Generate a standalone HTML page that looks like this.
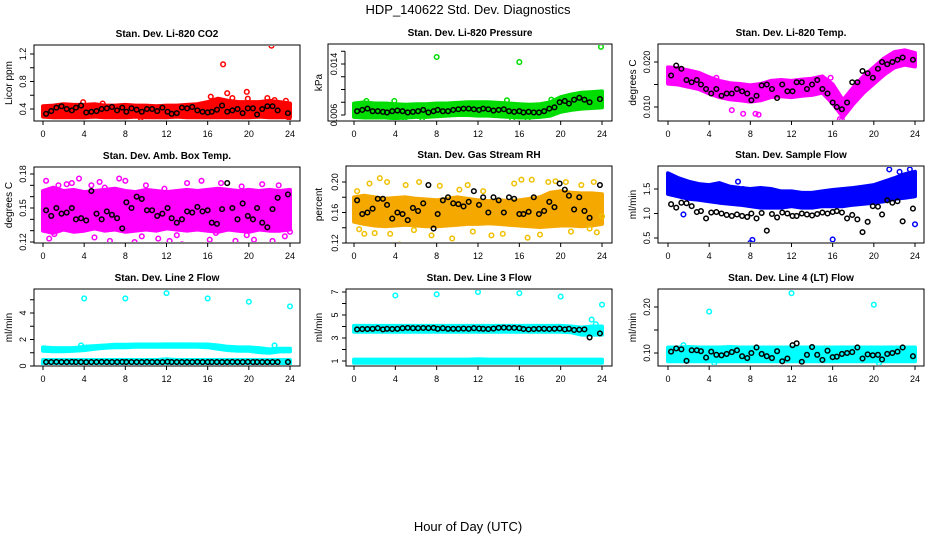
<!DOCTYPE html>
<html><head><meta charset="utf-8">
<style>
html,body{margin:0;padding:0;background:#fff;}
svg{display:block;font-family:"Liberation Sans",sans-serif;}
</style></head>
<body>
<svg id="chart" width="936" height="540" viewBox="0 0 936 540" xmlns="http://www.w3.org/2000/svg">
<text x="468" y="14" text-anchor="middle" font-size="13">HDP_140622  Std. Dev. Diagnostics</text>
<text x="468" y="531" text-anchor="middle" font-size="13">Hour of Day (UTC)</text>
</svg>
<script>
// ---- data (hourly bands 0..24, black sample points, outliers) ----
const bandHours=[0,1,2,3,4,5,6,7,8,9,10,11,12,13,14,15,16,17,18,19,20,21,22,23,24];
const blackHours=[0.3,0.8,1.3,1.8,2.3,2.8,3.2,3.7,4.2,4.7,5.2,5.7,6.2,6.7,7.2,7.7,8.1,8.6,9.1,9.6,10.1,10.6,11.1,11.6,12.1,12.5,13.0,13.5,14.0,14.5,15.0,15.5,16.0,16.4,16.9,17.4,17.9,18.4,18.9,19.4,19.9,20.4,20.8,21.3,21.8,22.3,22.8,23.8];

const co2Upper=[0.44,0.45,0.47,0.46,0.46,0.47,0.45,0.45,0.46,0.45,0.45,0.44,0.45,0.45,0.46,0.47,0.50,0.55,0.52,0.50,0.50,0.50,0.52,0.50,0.48];
const co2Lower=[0.29,0.28,0.28,0.28,0.28,0.29,0.28,0.28,0.28,0.29,0.28,0.28,0.28,0.29,0.28,0.28,0.28,0.28,0.28,0.28,0.28,0.29,0.28,0.28,0.28];
const co2Black=[0.33,0.37,0.42,0.44,0.40,0.38,0.42,0.45,0.35,0.36,0.37,0.40,0.41,0.43,0.38,0.42,0.36,0.41,0.39,0.36,0.40,0.40,0.37,0.42,0.36,0.33,0.34,0.42,0.41,0.43,0.38,0.36,0.35,0.36,0.39,0.45,0.36,0.38,0.40,0.34,0.41,0.41,0.32,0.40,0.44,0.44,0.38,0.34];
const co2OutX=[17.5,22.2,17.9,19.8,18.4,19.9,21.8,22.5,23.6,23.9,16.3,9.5,3.9,5.8];
const co2OutY=[1.05,1.32,0.63,0.65,0.56,0.55,0.56,0.53,0.52,0.22,0.58,0.27,0.50,0.48];

const presUpper=[0.0078,0.0080,0.0078,0.0078,0.0077,0.0076,0.0077,0.0077,0.0078,0.0078,0.0079,0.0080,0.0080,0.0080,0.0079,0.0078,0.0077,0.0076,0.0077,0.0080,0.0088,0.0092,0.0095,0.0096,0.0097];
const presLower=[0.0057,0.0056,0.0056,0.0056,0.0055,0.0056,0.0057,0.0057,0.0058,0.0059,0.0060,0.0060,0.0059,0.0059,0.0058,0.0057,0.0056,0.0056,0.0057,0.0059,0.0065,0.0068,0.0070,0.0071,0.0072];
const presBlack=[0.0066,0.0068,0.0070,0.0066,0.0066,0.0065,0.0064,0.0066,0.0067,0.0066,0.0064,0.0065,0.0066,0.0068,0.0064,0.0066,0.0068,0.0066,0.0066,0.0068,0.0069,0.0070,0.0070,0.0069,0.0068,0.0070,0.0069,0.0067,0.0068,0.0069,0.0066,0.0065,0.0066,0.0064,0.0065,0.0064,0.0064,0.0066,0.0070,0.0072,0.0080,0.0082,0.0078,0.0084,0.0087,0.0084,0.0080,0.0085];
const presOutX=[8.0,16.0,23.9,16.8,4.9,6.6,1.2,3.9,14.8,15.3,19.1];
const presOutY=[0.0151,0.0143,0.0167,0.0054,0.0055,0.0055,0.0082,0.0082,0.0083,0.0054,0.0084];

const tempUpper=[0.0188,0.0186,0.0181,0.0176,0.0166,0.0158,0.0153,0.0151,0.0148,0.0151,0.0158,0.0160,0.0158,0.0161,0.0163,0.0168,0.0150,0.0115,0.0143,0.0168,0.0188,0.0208,0.0222,0.0226,0.0220];
const tempLower=[0.0152,0.0150,0.0145,0.0140,0.0130,0.0122,0.0117,0.0115,0.0112,0.0115,0.0122,0.0124,0.0122,0.0125,0.0127,0.0132,0.0108,0.0078,0.0107,0.0132,0.0152,0.0172,0.0188,0.0194,0.0190];
const tempBlack=[0.0170,0.0192,0.0185,0.0160,0.0155,0.0160,0.0150,0.0140,0.0130,0.0140,0.0125,0.0130,0.0130,0.0140,0.0135,0.0130,0.0115,0.0125,0.0148,0.0150,0.0140,0.0120,0.0150,0.0135,0.0135,0.0155,0.0155,0.0140,0.0150,0.0160,0.0140,0.0130,0.0110,0.0100,0.0095,0.0110,0.0155,0.0155,0.0180,0.0175,0.0165,0.0185,0.0200,0.0195,0.0200,0.0205,0.0210,0.0205];
const tempOutX=[7.3,8.5,8.8,6.2,4.7,15.8,16.7,16.9,23.9];
const tempOutY=[0.0085,0.0085,0.0083,0.0093,0.0165,0.0165,0.0073,0.0071,0.0200];

const boxUpper=[0.165,0.168,0.165,0.166,0.164,0.165,0.166,0.167,0.165,0.164,0.166,0.165,0.164,0.165,0.166,0.165,0.166,0.167,0.166,0.165,0.166,0.165,0.166,0.165,0.166];
const boxLower=[0.130,0.128,0.131,0.129,0.130,0.132,0.130,0.131,0.129,0.130,0.131,0.130,0.132,0.131,0.130,0.131,0.130,0.129,0.131,0.130,0.129,0.131,0.130,0.130,0.131];
const boxBlack=[0.148,0.143,0.150,0.145,0.146,0.150,0.140,0.141,0.139,0.165,0.145,0.140,0.147,0.144,0.141,0.132,0.155,0.150,0.160,0.158,0.148,0.148,0.143,0.145,0.150,0.141,0.137,0.140,0.147,0.146,0.151,0.147,0.148,0.137,0.136,0.149,0.172,0.150,0.140,0.154,0.143,0.140,0.150,0.137,0.133,0.149,0.159,0.162];
const boxOutX=[0.3,0.6,1.5,2.3,2.8,3.2,3.5,4.7,5.5,6.5,7.4,8.0,8.9,10.0,11.2,12.3,13.5,14.0,15.4,16.2,17.3,18.7,19.3,20.5,21.3,22.3,22.9,23.5,24.0,9.6,5.0,1.1,13.0,19.8,16.8,6.0,11.8];
const boxOutY=[0.174,0.123,0.170,0.171,0.172,0.188,0.176,0.170,0.173,0.121,0.176,0.174,0.120,0.170,0.123,0.121,0.118,0.172,0.174,0.122,0.172,0.121,0.169,0.122,0.171,0.121,0.170,0.125,0.129,0.125,0.124,0.127,0.126,0.126,0.128,0.168,0.167];

const rhUpper=[0.180,0.182,0.180,0.178,0.179,0.180,0.178,0.177,0.176,0.178,0.180,0.178,0.176,0.175,0.176,0.175,0.176,0.178,0.180,0.186,0.188,0.186,0.185,0.185,0.184];
const rhLower=[0.148,0.145,0.143,0.142,0.143,0.144,0.143,0.142,0.142,0.143,0.144,0.145,0.145,0.146,0.145,0.144,0.143,0.142,0.141,0.142,0.143,0.143,0.142,0.143,0.145];
const rhBlack=[0.176,0.158,0.160,0.165,0.178,0.178,0.170,0.152,0.160,0.158,0.150,0.166,0.162,0.172,0.196,0.139,0.158,0.176,0.180,0.172,0.171,0.168,0.174,0.188,0.170,0.180,0.160,0.180,0.176,0.160,0.180,0.178,0.158,0.158,0.161,0.180,0.158,0.162,0.174,0.167,0.198,0.190,0.182,0.164,0.180,0.162,0.153,0.196];
const rhOutX=[0.3,0.5,1.0,1.5,2.0,2.5,3.2,3.5,4.4,5.0,5.8,6.3,7.5,8.3,9.5,10.2,11.0,11.5,12.5,13.3,14.4,15.5,16.2,16.8,17.2,18.0,18.8,19.5,20.5,21.0,22.0,22.8,23.2,23.5,24.0];
const rhOutY=[0.188,0.138,0.132,0.198,0.133,0.205,0.200,0.132,0.118,0.196,0.137,0.200,0.130,0.195,0.126,0.190,0.196,0.135,0.188,0.130,0.132,0.198,0.203,0.127,0.203,0.131,0.200,0.201,0.200,0.135,0.196,0.139,0.200,0.134,0.155];

const flowUpper=[1.82,1.72,1.65,1.60,1.58,1.62,1.55,1.52,1.50,1.52,1.50,1.45,1.45,1.42,1.42,1.45,1.48,1.50,1.52,1.55,1.58,1.65,1.72,1.80,1.85];
const flowLower=[1.40,1.35,1.30,1.28,1.25,1.22,1.20,1.18,1.15,1.12,1.12,1.12,1.15,1.12,1.12,1.15,1.15,1.15,1.18,1.20,1.22,1.25,1.30,1.32,1.35];
const flowBlack=[1.19,1.12,1.22,1.21,1.15,1.03,1.05,0.90,1.02,1.03,1.00,0.97,0.95,0.98,0.95,0.93,1.00,0.90,1.01,0.65,0.99,0.92,1.02,1.00,0.95,0.95,1.00,0.98,0.96,0.99,1.02,1.00,1.03,1.05,1.02,0.90,0.97,0.88,0.62,0.83,1.15,1.14,0.98,1.27,1.22,1.25,0.84,1.10];
const flowOutX=[0.3,1.5,6.8,8.0,8.2,16.0,21.5,22.5,23.5,24.0,7.3];
const flowOutY=[1.72,0.98,1.65,0.40,0.46,0.47,1.90,1.85,1.90,0.78,1.50];

const l2Upper=[1.40,1.35,1.35,1.35,1.45,1.50,1.55,1.60,1.60,1.62,1.62,1.62,1.63,1.63,1.63,1.62,1.62,1.55,1.45,1.40,1.40,1.35,1.25,1.30,1.30];
const l2Lower=[1.15,1.12,1.12,1.15,1.20,1.30,1.38,1.42,1.42,1.45,1.45,1.45,1.45,1.45,1.45,1.45,1.42,1.30,1.20,1.15,1.15,1.05,1.00,1.10,1.10];
const l2LowUpper=[0.45,0.45,0.45,0.45,0.45,0.45,0.45,0.45,0.45,0.45,0.45,0.45,0.50,0.45,0.45,0.45,0.45,0.45,0.45,0.45,0.45,0.45,0.45,0.45,0.45];
const l2LowLower=[0.15,0.15,0.15,0.15,0.15,0.15,0.15,0.15,0.15,0.15,0.15,0.15,0.15,0.15,0.15,0.15,0.15,0.15,0.15,0.15,0.15,0.15,0.15,0.15,0.15];
const l2Black=[0.30,0.30,0.31,0.30,0.30,0.31,0.30,0.30,0.29,0.30,0.30,0.31,0.30,0.30,0.30,0.31,0.30,0.30,0.30,0.30,0.31,0.30,0.30,0.30,0.32,0.30,0.30,0.30,0.30,0.30,0.31,0.30,0.30,0.30,0.30,0.30,0.30,0.31,0.30,0.30,0.31,0.30,0.30,0.30,0.30,0.30,0.30,0.30];
const l2OutX=[4,8,12,16,20,24,3.7,22.5];
const l2OutY=[5.1,5.1,5.5,5.1,4.85,4.5,1.55,1.55];

const l3Upper=[4.05,4.05,4.05,4.05,4.05,4.05,4.05,4.05,4.05,4.05,4.05,4.05,4.05,4.05,4.05,4.05,4.05,4.05,4.05,4.05,4.05,4.0,3.9,4.0,4.0];
const l3Lower=[3.55,3.55,3.55,3.55,3.55,3.55,3.55,3.55,3.55,3.55,3.55,3.55,3.55,3.55,3.55,3.55,3.55,3.55,3.55,3.55,3.55,3.5,3.3,3.3,3.3];
const l3LowUpper=[1.12,1.12,1.12,1.12,1.12,1.12,1.12,1.12,1.12,1.12,1.12,1.12,1.15,1.12,1.12,1.12,1.12,1.12,1.12,1.12,1.12,1.12,1.12,1.12,1.12];
const l3LowLower=[0.85,0.85,0.85,0.85,0.85,0.85,0.85,0.85,0.85,0.85,0.85,0.85,0.85,0.85,0.85,0.85,0.85,0.85,0.85,0.85,0.85,0.85,0.85,0.85,0.85];
const l3Black=[3.75,3.78,3.78,3.80,3.85,3.75,3.80,3.78,3.80,3.85,3.88,3.85,3.85,3.87,3.86,3.88,3.80,3.85,3.80,3.80,3.80,3.82,3.80,3.85,3.82,3.80,3.78,3.82,3.88,3.90,3.88,3.88,3.85,3.78,3.75,3.78,3.80,3.80,3.78,3.80,3.82,3.75,3.80,3.70,3.72,3.75,3.05,3.40];
const l3OutX=[4,8,12,16,20,24,23.0,23.4,23.8];
const l3OutY=[6.7,6.8,7.0,6.9,6.6,5.9,4.6,4.2,3.9];

const l4Upper=[0.112,0.112,0.113,0.112,0.112,0.112,0.113,0.112,0.112,0.112,0.112,0.112,0.112,0.112,0.112,0.112,0.112,0.112,0.112,0.112,0.112,0.112,0.112,0.112,0.112];
const l4Lower=[0.082,0.082,0.082,0.082,0.082,0.082,0.082,0.082,0.082,0.082,0.082,0.082,0.082,0.082,0.082,0.082,0.082,0.082,0.082,0.082,0.082,0.082,0.082,0.082,0.082];
const l4Black=[0.103,0.110,0.108,0.083,0.106,0.106,0.104,0.090,0.103,0.096,0.095,0.098,0.102,0.106,0.093,0.089,0.100,0.112,0.098,0.093,0.089,0.104,0.082,0.088,0.117,0.121,0.081,0.096,0.113,0.096,0.085,0.105,0.091,0.092,0.098,0.100,0.102,0.112,0.088,0.097,0.095,0.096,0.086,0.098,0.100,0.103,0.112,0.093];
const l4OutX=[4,12,20,1.5,20.5,4.5];
const l4OutY=[0.19,0.23,0.205,0.117,0.078,0.078];

// ---- layout ----
const NS='http://www.w3.org/2000/svg';
const svg=document.getElementById('chart');
function mk(tag,attrs,parent){const e=document.createElementNS(NS,tag);for(const k in attrs)e.setAttribute(k,attrs[k]);(parent||svg).appendChild(e);return e;}

const panels=[
 {id:'co2',title:'Stan. Dev. Li-820 CO2',ylab:'Licor ppm',box:[34,45,300,121],x0:43,x24:290,va:0.4,pa:109,vb:1.2,pb:54,ticks:[0.4,0.6,0.8,1.0,1.2],labels:['0.4','','0.8','','1.2'],col:'#ff0000',up:co2Upper,lo:co2Lower,bl:co2Black,ox:co2OutX,oy:co2OutY},
 {id:'pressure',title:'Stan. Dev. Li-820 Pressure',ylab:'kPa',box:[328,44,612,121],axisX:345,x0:354,x24:602,va:0.006,pa:115,vb:0.014,pb:64,ticks:[0.006,0.008,0.010,0.012,0.014,0.016],labels:['0.006','','','','0.014',''],col:'#00dd00',up:presUpper,lo:presLower,bl:presBlack,ox:presOutX,oy:presOutY},
 {id:'temp',title:'Stan. Dev. Li-820 Temp.',ylab:'degrees C',box:[658,44,924,121],x0:668,x24:915,va:0.010,pa:107,vb:0.020,pb:62,ticks:[0.010,0.015,0.020],labels:['0.010','','0.020'],col:'#ff00ff',up:tempUpper,lo:tempLower,bl:tempBlack,ox:tempOutX,oy:tempOutY},
 {id:'box-temp',title:'Stan. Dev. Amb. Box Temp.',ylab:'degrees C',box:[34,167,300,243],x0:43,x24:290,va:0.12,pa:242,vb:0.18,pb:174,ticks:[0.12,0.13,0.14,0.15,0.16,0.17,0.18],labels:['0.12','','','0.15','','','0.18'],col:'#ff00ff',up:boxUpper,lo:boxLower,bl:boxBlack,ox:boxOutX,oy:boxOutY},
 {id:'rh',title:'Stan. Dev. Gas Stream RH',ylab:'percent',box:[346,166,612,243],x0:354,x24:602,va:0.12,pa:243,vb:0.20,pb:182,ticks:[0.12,0.14,0.16,0.18,0.20],labels:['0.12','','0.16','','0.20'],col:'#f5a800',ocol:'#f0c000',up:rhUpper,lo:rhLower,bl:rhBlack,ox:rhOutX,oy:rhOutY},
 {id:'sample-flow',title:'Stan. Dev. Sample Flow',ylab:'ml/min',box:[658,166,924,243],x0:668,x24:915,va:0.5,pa:238,vb:1.5,pb:189,ticks:[0.5,1.0,1.5],labels:['0.5','1.0','1.5'],col:'#0000ff',up:flowUpper,lo:flowLower,bl:flowBlack,ox:flowOutX,oy:flowOutY},
 {id:'line2',title:'Stan. Dev. Line 2 Flow',ylab:'ml/min',box:[34,289,300,366],x0:43,x24:290,va:0,pa:366,vb:4,pb:313,ticks:[0,1,2,3,4,5],labels:['0','','2','','4',''],col:'#00ffff',up:l2Upper,lo:l2Lower,up2:l2LowUpper,lo2:l2LowLower,bl:l2Black,ox:l2OutX,oy:l2OutY},
 {id:'line3',title:'Stan. Dev. Line 3 Flow',ylab:'ml/min',box:[346,289,612,366],x0:354,x24:602,va:1,pa:361,vb:7,pb:292,ticks:[1,2,3,4,5,6,7],labels:['1','','3','','5','','7'],col:'#00ffff',up:l3Upper,lo:l3Lower,up2:l3LowUpper,lo2:l3LowLower,bl:l3Black,ox:l3OutX,oy:l3OutY},
 {id:'line4',title:'Stan. Dev. Line 4 (LT) Flow',ylab:'ml/min',box:[658,289,924,366],x0:668,x24:915,va:0.10,pa:353,vb:0.20,pb:307,ticks:[0.10,0.15,0.20],labels:['0.10','','0.20'],col:'#00ffff',up:l4Upper,lo:l4Lower,bl:l4Black,ox:l4OutX,oy:l4OutY}
];
const xTicks=[0,4,8,12,16,20,24];
const colYlab=[8,318,632];

panels.forEach((p,pi)=>{
  const g=mk('g',{});
  
  
  const [L,T,R,B]=p.box;
  const AX=p.axisX||L;
  const xs=h=>p.x0+(p.x24-p.x0)*h/24;
  const ys=v=>p.pa+(p.pb-p.pa)*(v-p.va)/(p.vb-p.va);
  const cid='clip'+pi;
  const cp=mk('clipPath',{id:cid},g);mk('rect',{x:L+1,y:T+1,width:R-L-2,height:B-T-2},cp);
  const plot=mk('g',{'clip-path':'url(#'+cid+')'},g);
  function band(up,lo,name){
    let pts=bandHours.map((h,i)=>xs(h).toFixed(1)+','+ys(up[i]).toFixed(1));
    for(let i=bandHours.length-1;i>=0;i--)pts.push(xs(bandHours[i]).toFixed(1)+','+ys(lo[i]).toFixed(1));
    const b=mk('polygon',{points:pts.join(' '),fill:p.col,stroke:p.col,'stroke-width':4,'stroke-linejoin':'round'},plot);
    
    
  }
  band(p.up,p.lo,p.id+'-data-band');
  if(p.up2)band(p.up2,p.lo2,p.id+'-low-data-band');
  p.ox.forEach((h,i)=>{
    const c=mk('circle',{cx:xs(h),cy:ys(p.oy[i]),r:2.3,fill:'none',stroke:p.ocol||p.col,'stroke-width':1.5},plot);
    
    
  });
  p.bl.forEach((v,i)=>{
    const c=mk('circle',{cx:xs(blackHours[i]),cy:ys(v),r:2.3,fill:'none',stroke:'#000','stroke-width':1.5},plot);
    
    
  });
  const fr=mk('rect',{x:L,y:T,width:R-L,height:B-T,fill:'none',stroke:'#000','stroke-width':1},g);
  
  
  const t=mk('text',{x:(L+R)/2,y:T-8,'text-anchor':'middle','font-size':10,'font-weight':'bold'},g);
  t.textContent=p.title;
  
  
  xTicks.forEach(h=>{
    mk('line',{x1:xs(h),x2:xs(h),y1:B,y2:B+4,stroke:'#000'},g);
    const tl=mk('text',{x:xs(h),y:B+16,'text-anchor':'middle','font-size':9},g);
    tl.textContent=h;
    
    
  });
  if(p.axisX){
    mk('line',{x1:AX,x2:AX,y1:ys(p.ticks[0]),y2:ys(p.ticks[p.ticks.length-1]),stroke:'#000'},g);
  }
  p.ticks.forEach((v,i)=>{
    const y=ys(v);
    mk('line',{x1:AX-4,x2:AX,y1:y,y2:y,stroke:'#000'},g);
    if(p.labels[i]){
      const tl=mk('text',{x:0,y:0,'text-anchor':'middle','font-size':9,transform:'translate('+(AX-8)+','+y+') rotate(-90)'},g);
      tl.textContent=p.labels[i];
      
      
    }
  });
  const yl=mk('text',{x:0,y:0,'text-anchor':'middle','font-size':10,transform:'translate('+(colYlab[pi%3]+4)+','+(T+B)/2+') rotate(-90)'},g);
  yl.textContent=p.ylab;
  
  
});
</script>
</body></html>
